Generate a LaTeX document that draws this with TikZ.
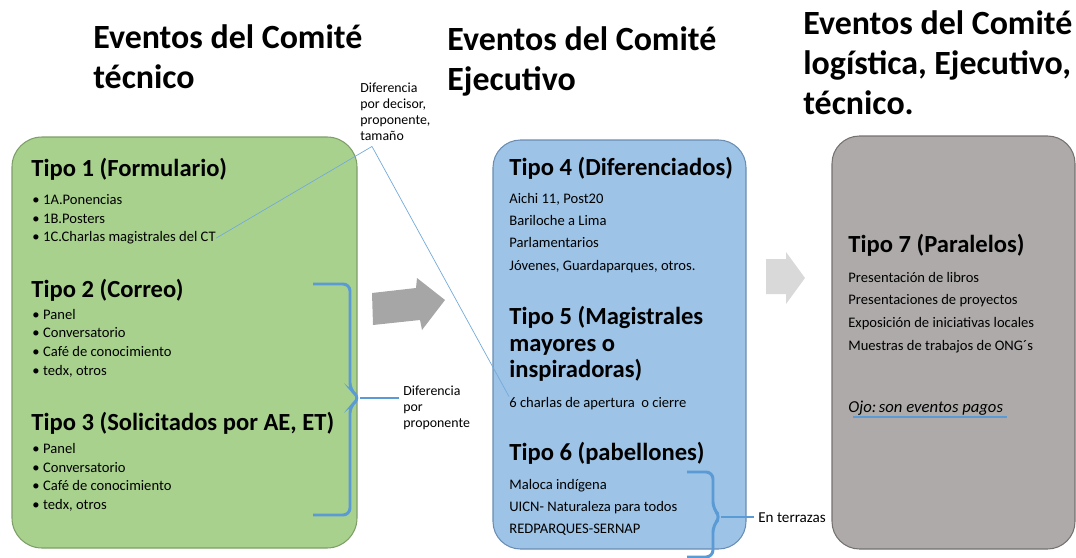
\documentclass[tikz,border=0pt]{standalone}
\usepackage{fontspec}
\setmainfont{Carlito}
\usepackage{xcolor}
\usetikzlibrary{positioning}

\definecolor{verdefondo}{HTML}{A9D18E}
\definecolor{verdeborde}{HTML}{7E9E68}
\definecolor{azulfondo}{HTML}{9DC3E6}
\definecolor{azulborde}{HTML}{6A8DB3}
\definecolor{grisfondo}{HTML}{AEAAAA}
\definecolor{grisborde}{HTML}{767171}
\definecolor{llavecol}{HTML}{5B9BD5}
\definecolor{flechaosc}{HTML}{A6A6A6}
\definecolor{flechaclr}{HTML}{D9D9D9}

\begin{document}
\begin{tikzpicture}[x=0.02cm, y=-0.02cm,
    titulo/.style={anchor=base west, inner sep=0pt, align=left, font=\fontsize{19.3}{22.5}\selectfont\bfseries},
    tipo/.style={anchor=base west, inner sep=0pt, align=left, font=\fontsize{14}{14.8}\selectfont\bfseries},
    item/.style={anchor=base west, inner sep=0pt, font=\fontsize{8.3}{10}\selectfont},
    nota/.style={anchor=base west, inner sep=0pt, align=left, font=\fontsize{7.9}{9.1}\selectfont},
    llave/.style={draw=llavecol, line width=1.7pt, rounded corners=4pt},
    guia/.style={draw=llavecol, line width=1.1pt},
    globo/.style={draw=llavecol!85, line width=0.4pt}]

        \useasboundingbox (0,0) rectangle (1076,558);

        % paneles
        \draw[fill=verdefondo, draw=verdeborde, line width=0.6pt, rounded corners=0.6cm] (12,137) rectangle (357,548);
        \draw[fill=azulfondo, draw=azulborde, line width=0.6pt, rounded corners=0.55cm] (493,140) rectangle (746,549);
        \draw[fill=grisfondo, draw=grisborde, line width=0.6pt, rounded corners=0.55cm] (832,136) rectangle (1075,549);

        % flechas grandes
        \fill[flechaosc] (372,293) -- (416,288) -- (417,278) -- (445,300) -- (422,330) -- (420,320) -- (373,325) -- cycle;
        \fill[flechaclr] (766,259) -- (786,259) -- (786,252) -- (805,278) -- (786,304) -- (786,294) -- (766,294) -- cycle;

        % titulos (base = ultima linea)
        \node[titulo] (t1) at (93,88) {Eventos del Comité\\técnico};
        \node[titulo] (t2) at (447,90) {Eventos del Comité\\Ejecutivo};
        \node[titulo] (t3) at (803,114) {Eventos del Comité\\logística, Ejecutivo,\\técnico.};

        % comite tecnico
        \node[tipo] (tipo1) at (31,176) {Tipo 1 (Formulario)};
        \node[item] (i1a) at (32,204) {\textbullet\hspace{2pt}1A.Ponencias};
        \node[item] (i1b) [below=0.38cm of i1a.base west, anchor=base west] {\textbullet\hspace{2pt}1B.Posters};
        \node[item] (i1c) [below=0.38cm of i1b.base west, anchor=base west] {\textbullet\hspace{2pt}1C.Charlas magistrales del CT};

        \node[tipo] (tipo2) at (31,297) {Tipo 2 (Correo)};
        \node[item] (i2a) at (32,319) {\textbullet\hspace{2pt}Panel};
        \node[item] (i2b) [below=0.375cm of i2a.base west, anchor=base west] {\textbullet\hspace{2pt}Conversatorio};
        \node[item] (i2c) [below=0.375cm of i2b.base west, anchor=base west] {\textbullet\hspace{2pt}Café de conocimiento};
        \node[item] (i2d) [below=0.375cm of i2c.base west, anchor=base west] {\textbullet\hspace{2pt}tedx, otros};

        \node[tipo] (tipo3) at (31,430) {Tipo 3 (Solicitados por AE, ET)};
        \node[item] (i3a) at (32,453) {\textbullet\hspace{2pt}Panel};
        \node[item] (i3b) [below=0.38cm of i3a.base west, anchor=base west] {\textbullet\hspace{2pt}Conversatorio};
        \node[item] (i3c) [below=0.38cm of i3b.base west, anchor=base west] {\textbullet\hspace{2pt}Café de conocimiento};
        \node[item] (i3d) [below=0.38cm of i3c.base west, anchor=base west] {\textbullet\hspace{2pt}tedx, otros};

        % comite ejecutivo
        \node[tipo] (tipo4) at (509,175) {Tipo 4 (Diferenciados)};
        \node[item] (e1) at (509,203) {Aichi 11, Post20};
        \node[item] (e2) [below=0.45cm of e1.base west, anchor=base west] {Bariloche a Lima};
        \node[item] (e3) [below=0.45cm of e2.base west, anchor=base west] {Parlamentarios};
        \node[item] (e4) [below=0.45cm of e3.base west, anchor=base west] {Jóvenes, Guardaparques, otros.};

        \node[tipo] (tipo5) at (509,377) {Tipo 5 (Magistrales\\mayores o\\inspiradoras)};
        \node[item] (e5) at (509,407) {6 charlas de apertura~ o cierre};

        \node[tipo] (tipo6) at (509,460) {Tipo 6 (pabellones)};
        \node[item] (e6) at (509,489) {Maloca indígena};
        \node[item] (e7) [below=0.45cm of e6.base west, anchor=base west] {UICN- Naturaleza para todos};
        \node[item] (e8) [below=0.45cm of e7.base west, anchor=base west] {REDPARQUES-SERNAP};

        % paralelos
        \node[tipo] (tipo7) at (848,252) {Tipo 7 (Paralelos)};
        \node[item] (p1) at (848,282) {Presentación de libros};
        \node[item] (p2) [below=0.455cm of p1.base west, anchor=base west] {Presentaciones de proyectos};
        \node[item] (p3) [below=0.455cm of p2.base west, anchor=base west] {Exposición de iniciativas locales};
        \node[item] (p4) [below=0.455cm of p3.base west, anchor=base west] {Muestras de trabajos de ONG´s};
        \node[item, font=\fontsize{9.5}{11}\selectfont\itshape] (ojo) at (848,412) {Ojo:\hspace{1.5pt}son eventos pagos};
        \draw[guia] ([xshift=3pt,yshift=-1pt]ojo.south west) -- ([xshift=2pt,yshift=-1pt]ojo.south east);

        % notas
        \node[nota] (n1) at (360,140) {Diferencia\\por decisor,\\proponente,\\tamaño};
        \node[nota] (n2) at (403,427) {Diferencia\\por\\proponente};
        \node[nota, font=\fontsize{8.6}{10}\selectfont] (n3) at (758,522) {En terrazas};

        \coordinate (cv) at ([xshift=0.24cm,yshift=-0.12cm]n1.south west);
        \draw[globo] (cv) -- (i1c.east);
        \draw[globo] (cv) -- (e5.north west);

        % llaves
        \coordinate (k1) at (360,398);
        \draw[llave] (313,284) -- (350,284) -- (350,390) -- (k1) -- (350,406) -- (350,515) -- (313,515);
        \draw[guia] (k1) -- ([xshift=-2pt]k1 -| n2.west);

        \coordinate (k2) at (721,517);
        \draw[llave] (687,472) -- (713,472) -- (713,509) -- (k2) -- (713,525) -- (713,557) -- (687,557);
        \draw[guia] (k2) -- ([xshift=-2pt]k2 -| n3.west);

\end{tikzpicture}
\end{document}
